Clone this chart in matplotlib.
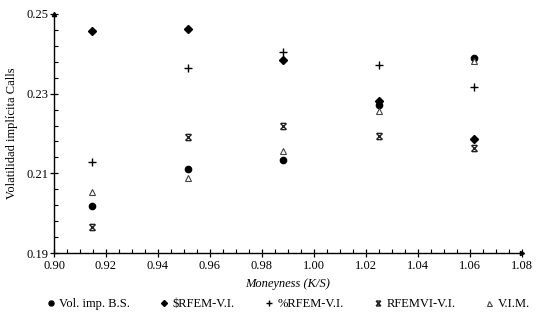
import matplotlib
matplotlib.use("Agg")
import matplotlib.pyplot as plt
import numpy as np
from matplotlib.path import Path
from matplotlib.ticker import FixedLocator, MultipleLocator, FormatStrFormatter

plt.rcParams['font.family'] = ['Liberation Serif', 'DejaVu Serif']

moneyness = [0.9146, 0.9515, 0.9881, 1.0250, 1.0615]
vol_bs = [0.2018, 0.2111, 0.2133, 0.2271, 0.2390]
rfem_usd = [0.2457, 0.2462, 0.2385, 0.2282, 0.2185]
rfem_pct = [0.2129, 0.2364, 0.2404, 0.2371, 0.2316]
rfemvi = [0.1966, 0.2192, 0.2220, 0.2194, 0.2164]
vim = [0.2053, 0.2089, 0.2157, 0.2256, 0.2381]

labels = ["Vol. imp. B.S.", "$RFEM-V.I.", "%RFEM-V.I.", "RFEMVI-V.I.", "V.I.M."]
y_major = [0.19, 0.21, 0.23, 0.25]

# custom "x with caps" marker
star = Path([(-1, -1), (1, 1), (-1, 1), (1, -1), (-0.8, 1), (0.8, 1), (-0.8, -1), (0.8, -1)],
            [Path.MOVETO, Path.LINETO, Path.MOVETO, Path.LINETO,
             Path.MOVETO, Path.LINETO, Path.MOVETO, Path.LINETO])

fig = plt.figure(figsize=(5.37, 3.18), dpi=100)
ax = fig.add_axes([0.1006, 0.2044, 0.8709, 0.7516])

ax.plot(moneyness, vol_bs, linestyle='none', marker='o', ms=4.5, color='black', label=labels[0])
ax.plot(moneyness, rfem_usd, linestyle='none', marker='D', ms=3.8, color='black', label=labels[1])
ax.plot(moneyness, rfem_pct, linestyle='none', marker='+', ms=6, mew=1.0, color='black', label=labels[2])
ax.plot(moneyness, rfemvi, linestyle='none', marker=star, ms=4.5, mew=1.0, color='#222222', label=labels[3])
ax.plot(moneyness, vim, linestyle='none', marker='^', ms=4.5, mfc='white', mec='#444444', mew=0.8, label=labels[4])

ax.set_xlim(0.90, 1.08)
ax.set_ylim(0.19, 0.25)
ax.xaxis.set_major_locator(MultipleLocator(0.02))
ax.xaxis.set_minor_locator(MultipleLocator(0.005))
ax.yaxis.set_major_locator(FixedLocator(y_major))
ax.yaxis.set_minor_locator(FixedLocator(np.arange(0.19, 0.2501, 0.004)))
ax.xaxis.set_major_formatter(FormatStrFormatter('%.2f'))
ax.yaxis.set_major_formatter(FormatStrFormatter('%.2f'))

for s in ['top', 'right']:
    ax.spines[s].set_visible(False)
for s in ['left', 'bottom']:
    ax.spines[s].set_linewidth(1.0)

# small arrowheads at axis ends
ax.plot(1, 0, marker='>', ms=3, color='black', transform=ax.transAxes, clip_on=False)
ax.plot(0, 1, marker='^', ms=3, color='black', transform=ax.transAxes, clip_on=False)

ax.tick_params(which='major', direction='inout', length=6, width=0.9, labelsize=9)
ax.tick_params(which='minor', direction='in', length=3, width=0.8)
ax.tick_params(axis='x', which='major', pad=2)
ax.tick_params(axis='y', which='major', pad=1)

ax.set_xlabel('Moneyness (K/S)', style='italic', fontsize=9, labelpad=4)
ax.set_ylabel('Volatilidad implícita Calls', fontsize=9, labelpad=6)

fig.legend(loc='lower center', bbox_to_anchor=(0.535, -0.01), ncol=5, frameon=False,
           fontsize=9, handletextpad=0.2, columnspacing=2.2, handlelength=1.0,
           markerscale=0.8)

fig.savefig('out.png', dpi=100)
